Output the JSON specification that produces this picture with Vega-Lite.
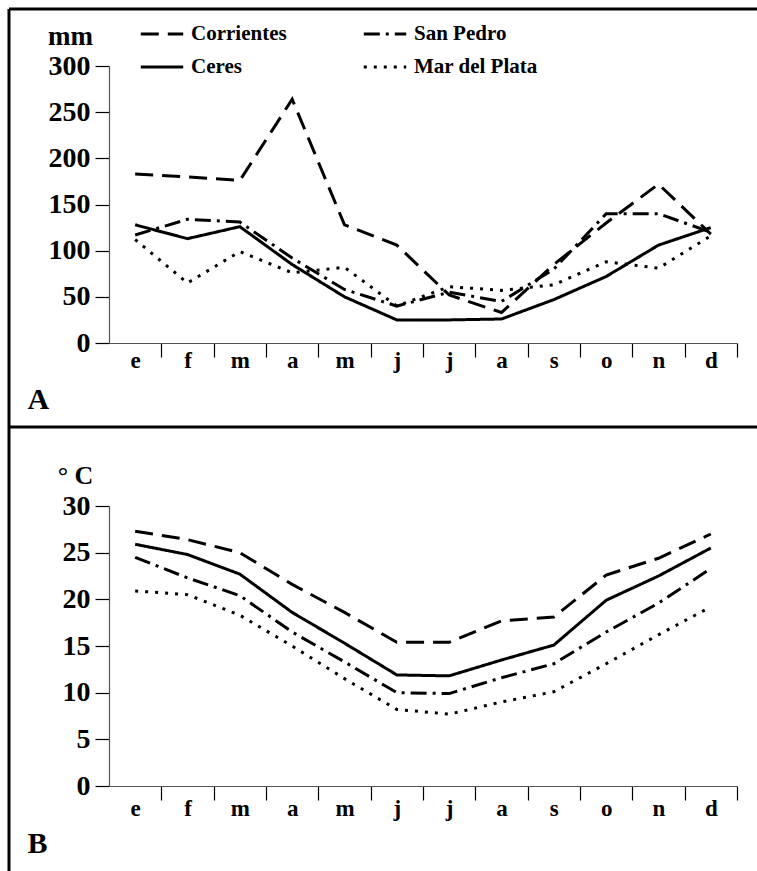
{
  "$schema": "https://vega.github.io/schema/vega-lite/v6.json",
  "autosize": {"type": "none"},
  "padding": {"left": 9, "top": 9, "right": 0, "bottom": 0},
  "width": 748,
  "height": 862,
  "background": "white",
  "view": {"stroke": "black", "strokeWidth": 3, "strokeDash": [748, 1610, 862, 0]},
  "config": {
    "font": "Liberation Serif",
    "axis": {
      "grid": false,
      "domainColor": "#555555",
      "domainWidth": 1.2,
      "tickColor": "black",
      "tickWidth": 1.2,
      "tickSize": 14,
      "labelFont": "Liberation Serif",
      "labelFontWeight": "bold",
      "labelColor": "black",
      "titleFont": "Liberation Serif",
      "titleFontWeight": "bold",
      "titleColor": "black",
      "titleAngle": 0
    },
    "line": {"color": "black", "strokeWidth": 3, "strokeCap": "butt"}
  },
  "datasets": {
    "lluvia": [
      {"mes": "ene", "estacion": "Corrientes", "valor": 183},
      {"mes": "feb", "estacion": "Corrientes", "valor": 180},
      {"mes": "mar", "estacion": "Corrientes", "valor": 176},
      {"mes": "abr", "estacion": "Corrientes", "valor": 264},
      {"mes": "may", "estacion": "Corrientes", "valor": 128},
      {"mes": "jun", "estacion": "Corrientes", "valor": 106},
      {"mes": "jul", "estacion": "Corrientes", "valor": 52},
      {"mes": "ago", "estacion": "Corrientes", "valor": 33},
      {"mes": "sep", "estacion": "Corrientes", "valor": 85},
      {"mes": "oct", "estacion": "Corrientes", "valor": 130},
      {"mes": "nov", "estacion": "Corrientes", "valor": 172},
      {"mes": "dic", "estacion": "Corrientes", "valor": 118},
      {"mes": "ene", "estacion": "San Pedro", "valor": 117},
      {"mes": "feb", "estacion": "San Pedro", "valor": 134},
      {"mes": "mar", "estacion": "San Pedro", "valor": 131},
      {"mes": "abr", "estacion": "San Pedro", "valor": 92},
      {"mes": "may", "estacion": "San Pedro", "valor": 58},
      {"mes": "jun", "estacion": "San Pedro", "valor": 40},
      {"mes": "jul", "estacion": "San Pedro", "valor": 55},
      {"mes": "ago", "estacion": "San Pedro", "valor": 45},
      {"mes": "sep", "estacion": "San Pedro", "valor": 80},
      {"mes": "oct", "estacion": "San Pedro", "valor": 140},
      {"mes": "nov", "estacion": "San Pedro", "valor": 140},
      {"mes": "dic", "estacion": "San Pedro", "valor": 120},
      {"mes": "ene", "estacion": "Ceres", "valor": 128},
      {"mes": "feb", "estacion": "Ceres", "valor": 113},
      {"mes": "mar", "estacion": "Ceres", "valor": 126},
      {"mes": "abr", "estacion": "Ceres", "valor": 85},
      {"mes": "may", "estacion": "Ceres", "valor": 50},
      {"mes": "jun", "estacion": "Ceres", "valor": 25},
      {"mes": "jul", "estacion": "Ceres", "valor": 25},
      {"mes": "ago", "estacion": "Ceres", "valor": 26},
      {"mes": "sep", "estacion": "Ceres", "valor": 47},
      {"mes": "oct", "estacion": "Ceres", "valor": 72},
      {"mes": "nov", "estacion": "Ceres", "valor": 106},
      {"mes": "dic", "estacion": "Ceres", "valor": 125},
      {"mes": "ene", "estacion": "Mar del Plata", "valor": 112},
      {"mes": "feb", "estacion": "Mar del Plata", "valor": 65},
      {"mes": "mar", "estacion": "Mar del Plata", "valor": 99},
      {"mes": "abr", "estacion": "Mar del Plata", "valor": 76},
      {"mes": "may", "estacion": "Mar del Plata", "valor": 82},
      {"mes": "jun", "estacion": "Mar del Plata", "valor": 40},
      {"mes": "jul", "estacion": "Mar del Plata", "valor": 61},
      {"mes": "ago", "estacion": "Mar del Plata", "valor": 57},
      {"mes": "sep", "estacion": "Mar del Plata", "valor": 63},
      {"mes": "oct", "estacion": "Mar del Plata", "valor": 88},
      {"mes": "nov", "estacion": "Mar del Plata", "valor": 81},
      {"mes": "dic", "estacion": "Mar del Plata", "valor": 116}
    ],
    "temperatura": [
      {"mes": "ene", "estacion": "Corrientes", "valor": 27.3},
      {"mes": "feb", "estacion": "Corrientes", "valor": 26.4},
      {"mes": "mar", "estacion": "Corrientes", "valor": 25.0},
      {"mes": "abr", "estacion": "Corrientes", "valor": 21.6},
      {"mes": "may", "estacion": "Corrientes", "valor": 18.6},
      {"mes": "jun", "estacion": "Corrientes", "valor": 15.4},
      {"mes": "jul", "estacion": "Corrientes", "valor": 15.4},
      {"mes": "ago", "estacion": "Corrientes", "valor": 17.7},
      {"mes": "sep", "estacion": "Corrientes", "valor": 18.1},
      {"mes": "oct", "estacion": "Corrientes", "valor": 22.6},
      {"mes": "nov", "estacion": "Corrientes", "valor": 24.4},
      {"mes": "dic", "estacion": "Corrientes", "valor": 27.0},
      {"mes": "ene", "estacion": "San Pedro", "valor": 24.5},
      {"mes": "feb", "estacion": "San Pedro", "valor": 22.3},
      {"mes": "mar", "estacion": "San Pedro", "valor": 20.4},
      {"mes": "abr", "estacion": "San Pedro", "valor": 16.5},
      {"mes": "may", "estacion": "San Pedro", "valor": 13.3},
      {"mes": "jun", "estacion": "San Pedro", "valor": 10.0},
      {"mes": "jul", "estacion": "San Pedro", "valor": 9.9},
      {"mes": "ago", "estacion": "San Pedro", "valor": 11.6},
      {"mes": "sep", "estacion": "San Pedro", "valor": 13.1},
      {"mes": "oct", "estacion": "San Pedro", "valor": 16.5},
      {"mes": "nov", "estacion": "San Pedro", "valor": 19.6},
      {"mes": "dic", "estacion": "San Pedro", "valor": 23.3},
      {"mes": "ene", "estacion": "Ceres", "valor": 25.9},
      {"mes": "feb", "estacion": "Ceres", "valor": 24.8},
      {"mes": "mar", "estacion": "Ceres", "valor": 22.7},
      {"mes": "abr", "estacion": "Ceres", "valor": 18.6},
      {"mes": "may", "estacion": "Ceres", "valor": 15.3},
      {"mes": "jun", "estacion": "Ceres", "valor": 11.9},
      {"mes": "jul", "estacion": "Ceres", "valor": 11.8},
      {"mes": "ago", "estacion": "Ceres", "valor": 13.5},
      {"mes": "sep", "estacion": "Ceres", "valor": 15.1},
      {"mes": "oct", "estacion": "Ceres", "valor": 19.9},
      {"mes": "nov", "estacion": "Ceres", "valor": 22.5},
      {"mes": "dic", "estacion": "Ceres", "valor": 25.5},
      {"mes": "ene", "estacion": "Mar del Plata", "valor": 20.9},
      {"mes": "feb", "estacion": "Mar del Plata", "valor": 20.5},
      {"mes": "mar", "estacion": "Mar del Plata", "valor": 18.3},
      {"mes": "abr", "estacion": "Mar del Plata", "valor": 15.0},
      {"mes": "may", "estacion": "Mar del Plata", "valor": 11.5},
      {"mes": "jun", "estacion": "Mar del Plata", "valor": 8.2},
      {"mes": "jul", "estacion": "Mar del Plata", "valor": 7.7},
      {"mes": "ago", "estacion": "Mar del Plata", "valor": 9.0},
      {"mes": "sep", "estacion": "Mar del Plata", "valor": 10.1},
      {"mes": "oct", "estacion": "Mar del Plata", "valor": 13.1},
      {"mes": "nov", "estacion": "Mar del Plata", "valor": 16.2},
      {"mes": "dic", "estacion": "Mar del Plata", "valor": 19.2}
    ]
  },
  "layer": [
    {
      "layer": [
        {
          "data": {"name": "lluvia"},
          "mark": {"type": "line"},
          "encoding": {
            "x": {
              "field": "mes", "type": "ordinal",
              "sort": ["ene", "feb", "mar", "abr", "may", "jun", "jul", "ago", "sep", "oct", "nov", "dic"],
              "scale": {"type": "point", "range": [100, 728], "padding": 0.5},
              "axis": {
                "orient": "bottom", "offset": -528,
                "tickOffset": 26.17, "labelOffset": -26.17,
                "labelExpr": "slice(datum.value, 0, 1)", "labelAngle": 0,
                "labelFontSize": 23, "labelPadding": 10, "labelBaseline": "alphabetic",
                "title": "A", "titleFontSize": 30, "titleX": 18, "titleY": 65,
                "titleAlign": "left", "titleBaseline": "alphabetic"
              }
            },
            "y": {
              "field": "valor", "type": "quantitative",
              "scale": {"domain": [0, 300], "range": [334, 57], "nice": false},
              "axis": {
                "orient": "left", "offset": -100, "values": [0, 50, 100, 150, 200, 250, 300],
                "labelFontSize": 28, "labelPadding": 5, "labelBaseline": "middle",
                "title": "mm", "titleFontSize": 27, "titleX": -39, "titleY": 35,
                "titleAlign": "center", "titleBaseline": "alphabetic"
              }
            },
            "strokeDash": {
              "field": "estacion", "type": "nominal",
              "scale": {"domain": ["Corrientes", "Ceres", "San Pedro", "Mar del Plata"], "range": [[18, 9], [1, 0], [16, 6, 3, 6], [3, 7]]},
              "legend": {
                "orient": "none", "legendX": 130, "legendY": 2, "columns": 2,
                "title": null, "symbolType": "stroke", "symbolSize": 1800, "symbolStrokeWidth": 3,
                "labelFontSize": 21, "labelFontWeight": "bold", "labelOffset": 6, "columnPadding": 70,
                "rowPadding": 0
              }
            }
          }
        },
        {
          "data": {"values": [{"linea": "separador", "valor": -91}]},
          "mark": {"type": "rule", "color": "black", "strokeWidth": 3},
          "encoding": {
            "y": {"field": "valor", "type": "quantitative"}
          }
        }
      ]
    },
    {
      "data": {"name": "temperatura"},
      "mark": {"type": "line"},
      "encoding": {
        "x": {
          "field": "mes", "type": "ordinal",
          "sort": ["ene", "feb", "mar", "abr", "may", "jun", "jul", "ago", "sep", "oct", "nov", "dic"],
          "scale": {"type": "point", "range": [100, 728], "padding": 0.5},
          "axis": {
            "orient": "bottom", "offset": -85,
            "tickOffset": 26.17, "labelOffset": -26.17,
            "labelExpr": "slice(datum.value, 0, 1)", "labelAngle": 0,
            "labelFontSize": 23, "labelPadding": 15, "labelBaseline": "alphabetic",
            "title": "B", "titleFontSize": 30, "titleX": 18, "titleY": 66,
            "titleAlign": "left", "titleBaseline": "alphabetic"
          }
        },
        "y": {
          "field": "valor", "type": "quantitative",
          "scale": {"domain": [0, 30], "range": [777, 497], "nice": false},
          "axis": {
            "orient": "left", "offset": -100, "values": [0, 5, 10, 15, 20, 25, 30],
            "labelFontSize": 28, "labelPadding": 5, "labelBaseline": "middle",
            "title": "° C", "titleFontSize": 26, "titleX": -34, "titleY": 474,
            "titleAlign": "center", "titleBaseline": "alphabetic"
          }
        },
        "strokeDash": {"field": "estacion", "type": "nominal"}
      }
    }
  ],
  "resolve": {"scale": {"x": "independent", "y": "independent"}, "axis": {"x": "independent", "y": "independent"}}
}
